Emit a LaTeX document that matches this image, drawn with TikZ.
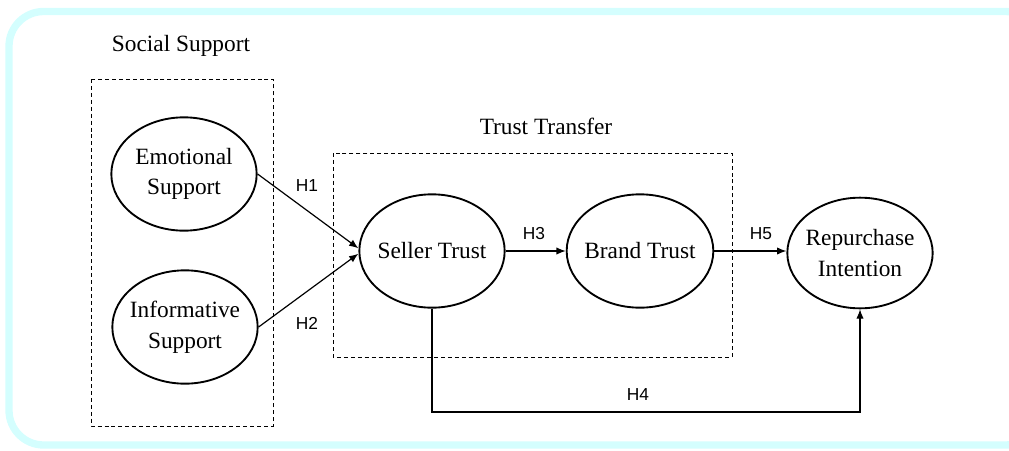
\documentclass[tikz,border=0pt]{standalone}
\usepackage{fontspec}
\setmainfont{Liberation Serif}
\newfontfamily\hypfont{Liberation Sans}
\usetikzlibrary{shapes.geometric,arrows.meta,calc}
\definecolor{frame}{RGB}{212,254,254}
\tikzset{
  construct/.style={ellipse,draw,line width=1.4pt,inner xsep=-25pt,inner ysep=-15pt,
    align=center,minimum width=109pt,minimum height=85pt,
    font=\fontsize{17.5}{23}\selectfont},
  grouplabel/.style={font=\fontsize{17.5}{21}\selectfont},
  groupbox/.style={draw,line width=0.7pt,dash pattern=on 3pt off 2.2pt},
  hyp/.style={font=\hypfont\fontsize{13}{16}\selectfont},
  link/.style={line width=0.9pt},
  arr/.style={link,-{Latex[length=7pt,width=5.5pt]}},
}
\begin{document}
\begin{tikzpicture}[x=0.75pt,y=-0.75pt]
\useasboundingbox (0,0) rectangle (1009,450);
% outer frame
\draw[frame,line width=5.5pt,rounded corners=26pt] (9,11.5) rectangle (1040,445);

% group boxes and their titles
\draw[groupbox] (91,79) rectangle (273,426);
\node[grouplabel] (sslabel) at (181,46) {Social Support};
\draw[groupbox] (333,153) rectangle (732,357);
\node[grouplabel] (ttlabel) at (546,126) {Trust Transfer};

% constructs
\node[construct] (emo) at (184,174) {Emotional\\Support};
\node[construct] (info) at (185,327) {Informative\\Support};
\node[construct] (seller) at (432,251) {Seller Trust};
\node[construct,minimum width=110pt] (brand) at (640,251) {Brand Trust};
\node[construct,minimum height=83pt] (rep) at (860,253) {Repurchase\\Intention};

% paths
\draw[arr] (emo.east) -- ([yshift=2pt]seller.west);
\draw[arr] (info.east) -- ([yshift=-2pt]seller.west);
\draw[arr] (seller.east) -- (brand.west);
\draw[arr] (brand.east) -- (brand.east -| rep.west);
\coordinate (low) at (0,412);
\draw[arr] (seller.south) -- (seller.south |- low) -- (rep.south |- low) -- (rep.south);

% hypothesis labels
\node[hyp] (h1) at (307,186) {H1};
\node[hyp] (h2) at (307,323) {H2};
\node[hyp] (h3) at (534,234) {H3};
\node[hyp] (h5) at (761,234) {H5};
\node[hyp] (h4) at (638,395) {H4};
\end{tikzpicture}
\end{document}
